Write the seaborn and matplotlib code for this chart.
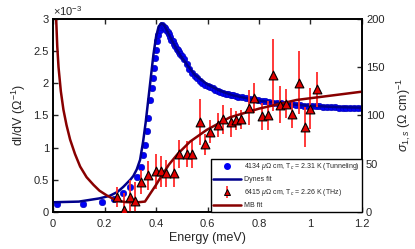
import numpy as np
import matplotlib
matplotlib.use("Agg")
import matplotlib.pyplot as plt
from matplotlib.lines import Line2D
from matplotlib.ticker import FuncFormatter
import seaborn as sns

# tunneling data, dI/dV in units of 1e-3 1/Ohm
tun_E = [0.015, 0.117, 0.19, 0.237, 0.272, 0.30, 0.327, 0.34, 0.348, 0.357, 0.366, 0.37,
         0.377, 0.383, 0.387, 0.392, 0.396, 0.40, 0.405, 0.409, 0.415, 0.42, 0.425, 0.43,
         0.435, 0.44, 0.445, 0.45, 0.455, 0.46, 0.465, 0.47, 0.475, 0.48, 0.485, 0.49,
         0.495, 0.50, 0.51, 0.52, 0.53, 0.54, 0.55, 0.56, 0.57, 0.58, 0.59, 0.60, 0.61,
         0.62, 0.63, 0.64, 0.65, 0.66, 0.67, 0.68, 0.69, 0.70, 0.71, 0.72, 0.735, 0.75,
         0.765, 0.78, 0.795, 0.81, 0.825, 0.84, 0.855, 0.87, 0.885, 0.90, 0.915, 0.93,
         0.945, 0.96, 0.975, 0.99, 1.005, 1.02, 1.035, 1.05, 1.065, 1.08, 1.095, 1.11,
         1.125, 1.14, 1.155, 1.17, 1.185, 1.2]
tun_G = [0.12, 0.12, 0.15, 0.20, 0.29, 0.39, 0.54, 0.70, 0.88, 1.04, 1.25, 1.46,
         1.74, 1.92, 2.08, 2.23, 2.39, 2.52, 2.65, 2.75, 2.83, 2.88, 2.90, 2.88,
         2.86, 2.83, 2.80, 2.76, 2.72, 2.68, 2.65, 2.61, 2.58, 2.54, 2.51, 2.48,
         2.45, 2.42, 2.37, 2.30, 2.22, 2.16, 2.12, 2.08, 2.04, 2.01, 1.98, 1.96, 1.94,
         1.92, 1.90, 1.88, 1.87, 1.85, 1.84, 1.83, 1.82, 1.81, 1.80, 1.79, 1.78, 1.77,
         1.76, 1.75, 1.74, 1.73, 1.72, 1.71, 1.70, 1.70, 1.69, 1.68, 1.68, 1.67,
         1.66, 1.66, 1.65, 1.65, 1.64, 1.64, 1.64, 1.63, 1.63, 1.63, 1.63, 1.62,
         1.62, 1.62, 1.62, 1.62, 1.62, 1.62]

# Dynes fit, same units
dyn_E = [0.0, 0.1, 0.18, 0.22, 0.25, 0.273, 0.30, 0.312, 0.325, 0.338, 0.35, 0.36, 0.37,
         0.38, 0.39, 0.40, 0.41, 0.42, 0.43, 0.44, 0.46, 0.48, 0.50, 0.55, 0.60, 0.65,
         0.70, 0.80, 0.90, 1.0, 1.1, 1.2]
dyn_G = [0.15, 0.16, 0.21, 0.25, 0.31, 0.39, 0.50, 0.56, 0.66, 0.81, 1.10, 1.40, 1.75,
         2.10, 2.45, 2.72, 2.88, 2.93, 2.91, 2.84, 2.68, 2.53, 2.40, 2.13, 1.98, 1.88,
         1.81, 1.73, 1.68, 1.65, 1.63, 1.62]

# THz data, sigma_1 in (Ohm cm)^-1
thz_E = [0.25, 0.276, 0.30, 0.32, 0.34, 0.37, 0.40, 0.42, 0.44, 0.47, 0.49, 0.52, 0.54,
         0.57, 0.59, 0.61, 0.64, 0.66, 0.69, 0.71, 0.73, 0.76, 0.78, 0.81, 0.835, 0.855,
         0.88, 0.905, 0.93, 0.955, 0.98, 1.00, 1.025]
thz_S = [15.5, 2, 15.5, 11, 31, 38, 42, 42, 40, 40, 60, 60, 60,
         93, 70, 83, 90, 96, 93, 95, 96, 108, 118, 99, 100, 142,
         111, 112, 101, 134, 88, 107, 127]
thz_err = [10, 18, 18, 20, 12, 15, 18, 16, 14, 14, 15, 13, 15,
           24, 11, 12, 12, 15, 15, 10, 10, 18, 16, 14, 15, 37,
           19, 15, 14, 33, 21, 21, 18]

# Mattis-Bardeen fit
mb_E = [0.003, 0.008, 0.012, 0.016, 0.021, 0.03, 0.04, 0.052, 0.066, 0.085, 0.105,
        0.13, 0.157, 0.18, 0.209, 0.23, 0.254, 0.28, 0.30, 0.33, 0.357,
        0.38, 0.40, 0.416, 0.45, 0.484, 0.532, 0.597, 0.687, 0.80, 0.946, 1.2]
mb_S = [260, 225, 199, 172, 150, 125, 106, 90, 75, 60, 47,
        36, 28, 22, 17, 14, 11.5, 10.2, 10, 10, 10.7,
        20, 28, 35, 49, 60, 72.8, 85, 98, 107, 116, 124.6]

c_dot = "#0000f5"
c_dyn = "#00008c"
c_mb = "#880000"
c_err = "#ff2a2a"

sns.set_style("ticks")
plt.rcParams["font.family"] = ["Liberation Sans", "DejaVu Sans"]
plt.rcParams["mathtext.fontset"] = "custom"
plt.rcParams["mathtext.rm"] = "Liberation Sans"
plt.rcParams["mathtext.it"] = "Liberation Sans:italic"

fig = plt.figure(figsize=(4.15, 2.49), dpi=100)
ax = fig.add_axes([0.128, 0.149, 0.744, 0.775])
ax2 = ax.twinx()

sns.scatterplot(x=tun_E, y=tun_G, ax=ax, color=c_dot, s=22, edgecolor="#0000b0",
                linewidth=0.4)
sns.lineplot(x=dyn_E, y=dyn_G, ax=ax, color=c_dyn, lw=1.8, sort=False)
ax.lines[-1].set_zorder(4)

ax2.errorbar(thz_E, thz_S, yerr=thz_err, fmt="none", ecolor=c_err, elinewidth=1.3,
             capsize=0, zorder=1)
sns.lineplot(x=mb_E, y=mb_S, ax=ax2, color=c_mb, lw=1.8, sort=False)
ax2.lines[-1].set_zorder(2)
sns.scatterplot(x=thz_E, y=thz_S, ax=ax2, marker="^", color="#e00000", s=40,
                edgecolor="black", linewidth=0.8, zorder=3)

ax.set_xlim(0, 1.2)
ax.set_ylim(0, 3)
ax2.set_ylim(0, 200)
ax.set_xticks(np.arange(0, 1.21, 0.2))
ax.set_yticks(np.arange(0, 3.01, 0.5))
ax2.set_yticks([0, 50, 100, 150, 200])
fmt = FuncFormatter(lambda v, p: f"{v:g}")
ax.xaxis.set_major_formatter(fmt)
ax.yaxis.set_major_formatter(fmt)

for a in (ax, ax2):
    for s in a.spines.values():
        s.set_visible(True)
        s.set_linewidth(1.2)
        s.set_color("black")
ax.tick_params(axis="x", direction="in", top=True, length=3.5, width=1, labelsize=8, pad=5)
ax.tick_params(axis="y", direction="in", right=False, length=3.5, width=1, labelsize=8, pad=3)
ax2.tick_params(axis="y", direction="in", length=3.5, width=1, labelsize=8, pad=3)

ax.set_xlabel("Energy (meV)", fontsize=9, labelpad=2)
ax.set_ylabel(r"dI/dV ($\Omega^{-1}$)", fontsize=9, labelpad=4)
ax2.set_ylabel(r"$\sigma_{1,s}$ ($\Omega$ cm)$^{-1}$", fontsize=9, labelpad=7)
ax.text(0.0, 1.005, r"$\times10^{-3}$", transform=ax.transAxes, fontsize=8,
        ha="left", va="bottom")

handles = [
    Line2D([], [], marker="o", color=c_dot, linestyle="none", markersize=4),
    Line2D([], [], color=c_dyn, lw=1.8),
    (Line2D([], [], marker="|", color=c_err, linestyle="none", markersize=9, mew=1.2),
     Line2D([], [], marker="^", mfc="#e00000", mec="black", mew=0.7,
            linestyle="none", markersize=5)),
    Line2D([], [], color=c_mb, lw=1.8),
]
labels = [
    r"4134 $\mu\Omega$ cm, T$_c$ = 2.31 K (Tunneling)",
    "Dynes fit",
    r"6415 $\mu\Omega$ cm, T$_c$ = 2.26 K (THz)",
    "MB fit",
]
leg = ax2.legend(handles, labels, loc="lower right", bbox_to_anchor=(1, 0),
                 borderaxespad=0, fontsize=5, frameon=True, fancybox=False,
                 edgecolor="black", framealpha=1, handlelength=4.0,
                 handletextpad=0.4, labelspacing=0.6, borderpad=0.35)
leg.get_frame().set_linewidth(1.0)

fig.savefig("out.png", dpi=100)
